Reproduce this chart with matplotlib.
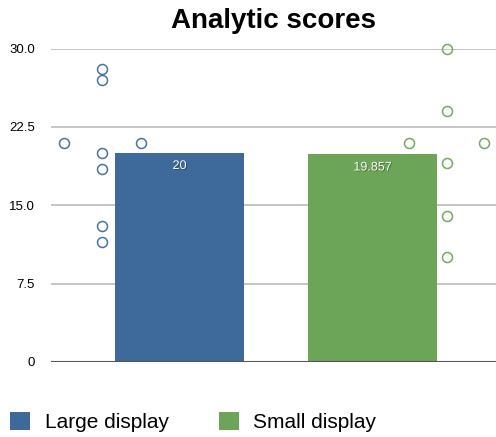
import numpy as np
import matplotlib.pyplot as plt
import matplotlib.patheffects as pe
from matplotlib.patches import Patch

plt.rcParams['font.family'] = ['Liberation Sans', 'DejaVu Sans']

groups = ["Large display", "Small display"]
colors = ["#3d6a9a", "#6ca458"]
point_colors = ["#4574a6", "#72aa5e"]

# individual scores, by column next to each bar
large_cols = [[21], [28, 27, 20, 18.5, 13, 11.5], [21]]
small_cols = [[21], [30, 24, 19, 14, 10], [21]]
large_offsets = [-0.6, -0.4, -0.2]
small_offsets = [0.19, 0.385, 0.58]

yticks = [0, 7.5, 15.0, 22.5, 30.0]
ytick_labels = ["0", "7.5", "15.0", "22.5", "30.0"]

fig = plt.figure(figsize=(4.96, 4.37), dpi=100)
ax = fig.add_axes([0.103, 0.172, 0.897, 0.717])

means = [np.mean(sum(large_cols, [])), np.mean(sum(small_cols, []))]
xs = np.arange(len(groups))

for y in yticks[1:]:
    ax.axhline(y, color="#bbbbbb", lw=1.2, zorder=0)
ax.axhline(0, color="#555555", lw=1.5, zorder=3)

bars = ax.bar(xs, means, width=0.668, color=colors, zorder=2)

for x, m in zip(xs, means):
    label = f"{m:.3f}".rstrip("0").rstrip(".")
    ax.text(x, m - 1.25, label, ha="center", va="center", color="white", fontsize=9,
            zorder=4,
            path_effects=[pe.SimplePatchShadow(offset=(0.6, -0.6), shadow_rgbFace="k", alpha=0.35),
                          pe.Normal()])

for cols, offs, x0, c in [(large_cols, large_offsets, 0, point_colors[0]),
                          (small_cols, small_offsets, 1, point_colors[1])]:
    for vals, off in zip(cols, offs):
        ax.plot([x0 + off] * len(vals), vals, "o", ms=7.2, mfc="none", mec=c, mew=1.1,
                ls="none", clip_on=False, zorder=5)

ax.set_xlim(-0.666, 1.64)
ax.set_ylim(0, 30)
ax.set_yticks(yticks)
ax.set_yticklabels(ytick_labels)
ax.set_xticks([])
ax.tick_params(axis="y", length=0, pad=11.5, labelsize=9.5)
for s in ax.spines.values():
    s.set_visible(False)

fig.text(0.551, 0.953, "Analytic scores", ha="center", va="center", fontsize=20, fontweight="bold")

handles = [Patch(facecolor=c, edgecolor="none") for c in colors]
fig.legend(handles, groups, loc="center left", bbox_to_anchor=(0.021, 0.035), ncol=2,
           frameon=False, fontsize=15, handlelength=0.95, handleheight=0.95,
           handletextpad=0.7, columnspacing=2.4, borderaxespad=0, borderpad=0)

fig.savefig("out.png", dpi=100)
